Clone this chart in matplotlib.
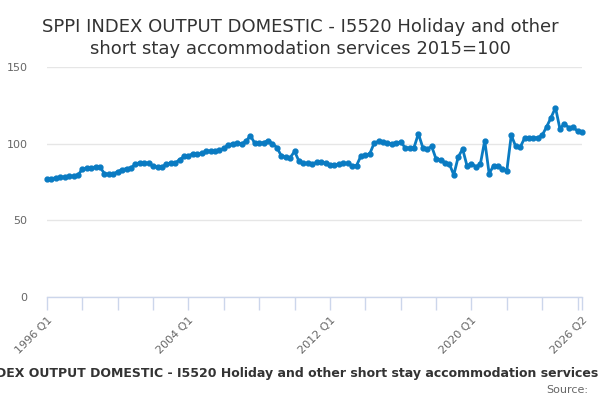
import matplotlib
matplotlib.use("Agg")
import matplotlib.pyplot as plt

plt.rcParams["font.family"] = ["DejaVu Sans"]

# quarterly index values, 1996 Q1 .. 2026 Q2
start_year = 1996
values = [
    76.8, 77.2, 77.7, 78.0, 78.4, 78.7, 78.9, 79.4,
    83.5, 84.0, 84.3, 84.8, 84.6, 80.5, 80.0, 80.2,
    81.8, 83.0, 83.8, 84.2, 86.8, 87.6, 87.4, 87.4,
    85.2, 84.8, 85.0, 86.5, 87.6, 87.4, 89.6, 91.7,
    92.0, 93.5, 93.0, 93.7, 95.2, 95.2, 95.2, 95.7,
    97.0, 99.3, 100.0, 100.2, 100.0, 101.5, 105.3, 100.2,
    100.2, 100.7, 102.0, 100.0, 97.5, 92.0, 91.3, 90.9,
    95.0, 88.5, 87.2, 87.2, 86.8, 87.8, 88.0, 87.4,
    86.3, 86.3, 86.5, 87.2, 87.2, 85.7, 85.7, 92.0,
    92.5, 93.4, 100.4, 101.5, 100.9, 100.2, 100.0, 100.7,
    101.0, 97.5, 97.0, 97.4, 106.5, 97.4, 96.5, 98.2,
    90.0, 89.6, 87.6, 86.8, 79.6, 91.3, 96.5, 85.5,
    87.0, 85.0, 86.5, 102.0, 80.4, 85.7, 85.2, 83.7,
    82.4, 105.5, 98.3, 97.6, 103.5, 104.0, 103.7, 104.0,
    105.5, 111.0, 117.0, 123.5, 109.8, 113.0, 110.5, 110.7,
    108.2, 107.4,
]
quarters = [f"{start_year + i // 4} Q{i % 4 + 1}" for i in range(len(values))]

tick_pos = list(range(0, len(values), 8)) + [len(values) - 1]
label_quarters = ["1996 Q1", "2004 Q1", "2012 Q1", "2020 Q1", "2026 Q2"]
y_ticks = [0, 50, 100, 150]

title = "SPPI INDEX OUTPUT DOMESTIC - I5520 Holiday and other\nshort stay accommodation services 2015=100"
legend_text = "SPPI INDEX OUTPUT DOMESTIC - I5520 Holiday and other short stay accommodation services"

line_color = "#0a7bc2"
axis_color = "#ccd6eb"
grid_color = "#e6e6e6"
text_color = "#666666"

fig = plt.figure(figsize=(6, 4), dpi=100)
ax = fig.add_axes([47 / 600, 1 - 297 / 400, 535 / 600, 230 / 400])

x = list(range(len(values)))
ax.plot(x, values, color=line_color, linewidth=2, marker="o", markersize=3.5,
        clip_on=False, zorder=3)

ax.set_xlim(0, len(values) - 1)
ax.set_ylim(0, 150)

ax.set_yticks(y_ticks)
ax.set_yticklabels([str(v) for v in y_ticks], color=text_color, fontsize=8)
ax.tick_params(axis="y", length=0, pad=14)
ax.grid(axis="y", color=grid_color, linewidth=1)
ax.set_axisbelow(True)

ax.set_xticks(tick_pos)
ax.set_xticklabels([q if q in label_quarters else "" for q in (quarters[p] for p in tick_pos)],
                   rotation=45, ha="right", rotation_mode="anchor",
                   color=text_color, fontsize=8)
ax.tick_params(axis="x", length=9, color=axis_color, width=1, pad=4)

for side in ["top", "right", "left"]:
    ax.spines[side].set_visible(False)
ax.spines["bottom"].set_color(axis_color)
ax.spines["bottom"].set_linewidth(1)

fig.text(0.5, 0.955, title, ha="center", va="top", fontsize=13, color="#333333",
         linespacing=1.25)
fig.text(598 / 600, 1 - 373 / 400, legend_text, ha="right", va="center",
         fontsize=9, fontweight="bold", color="#333333")
fig.text(588 / 600, 1 - 390 / 400, "Source:", ha="right", va="center",
         fontsize=8, color=text_color)

fig.savefig("out.png", dpi=100)
